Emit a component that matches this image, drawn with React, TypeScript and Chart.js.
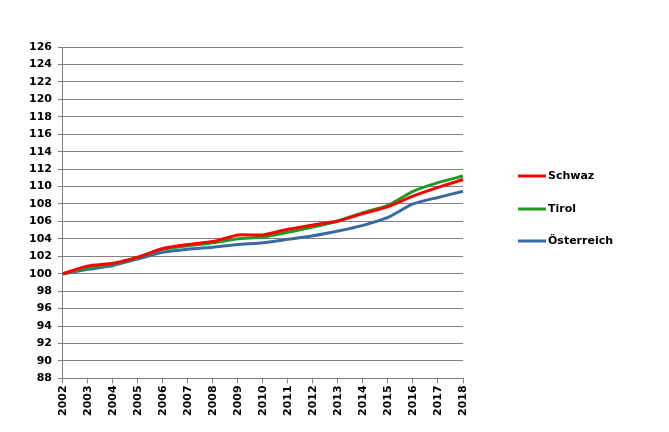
import React, { useEffect, useRef } from "react";
import { Chart, registerables } from "chart.js";

Chart.register(...registerables);

const years = ["2002", "2003", "2004", "2005", "2006", "2007", "2008", "2009", "2010", "2011", "2012", "2013", "2014", "2015", "2016", "2017", "2018"];
const schwaz = [100, 100.9, 101.2, 101.9, 102.9, 103.35, 103.7, 104.45, 104.45, 105.1, 105.6, 106.05, 106.9, 107.7, 108.9, 109.9, 110.8];
const tirol = [100, 100.7, 101.1, 101.9, 102.8, 103.2, 103.55, 104.0, 104.2, 104.75, 105.35, 106.05, 107.0, 107.85, 109.45, 110.45, 111.2];
const oesterreich = [100, 100.5, 100.95, 101.7, 102.45, 102.8, 103.05, 103.35, 103.55, 103.95, 104.35, 104.9, 105.55, 106.45, 108.0, 108.75, 109.45];
const seriesNames = ["Schwaz", "Tirol", "Österreich"];
const seriesColors = ["#ff0000", "#229922", "#3a6aa2"];

const FONT = "'DejaVu Sans', Verdana, sans-serif";

const customLegend = {
  id: "customLegend",
  afterDraw(chart: any) {
    const ctx = chart.ctx as CanvasRenderingContext2D;
    const ds = chart.data.datasets;
    const x0 = 518;
    const lineLen = 28;
    const ys = [176, 209, 241];
    ctx.save();
    ctx.font = `bold 11px ${FONT}`;
    ctx.textBaseline = "middle";
    ctx.textAlign = "left";
    ds.forEach((d: any, i: number) => {
      const y = ys[i];
      ctx.strokeStyle = d.borderColor;
      ctx.lineWidth = 3;
      ctx.beginPath();
      ctx.moveTo(x0, y);
      ctx.lineTo(x0 + lineLen, y);
      ctx.stroke();
      ctx.fillStyle = "#000";
      ctx.fillText(d.label, x0 + lineLen + 2, y);
    });
    ctx.restore();
  },
};

export default function App() {
  const ref = useRef<HTMLCanvasElement>(null);
  useEffect(() => {
    document.body.style.margin = "0";
    const canvas = ref.current!;
    const values = [schwaz, tirol, oesterreich];
    const chart = new Chart(canvas, {
      type: "line",
      data: {
        labels: years,
        datasets: values.map((v, i) => ({
          label: seriesNames[i],
          data: v,
          borderColor: seriesColors[i],
          backgroundColor: seriesColors[i],
          borderWidth: 3,
          pointRadius: 0,
          tension: 0.2,
          fill: false,
        })),
      },
      options: {
        animation: false,
        responsive: false,
        maintainAspectRatio: false,
        layout: { padding: { left: 23, top: 47, right: 206, bottom: 14 } },
        plugins: {
          legend: { display: false },
          tooltip: { enabled: false },
        },
        scales: {
          x: {
            offset: false,
            grid: {
              display: true,
              drawOnChartArea: false,
              drawTicks: true,
              tickLength: 5,
              color: "#808080",
            },
            border: { color: "#808080", width: 1 },
            ticks: {
              color: "#000",
              font: { family: FONT, size: 11, weight: "bold" },
              maxRotation: 90,
              minRotation: 90,
              autoSkip: false,
              padding: 2,
            },
          },
          y: {
            min: 88,
            max: 126,
            grid: {
              color: "#808080",
              tickLength: 5,
              lineWidth: 1,
            },
            border: { color: "#808080", width: 1 },
            ticks: {
              stepSize: 2,
              color: "#000",
              font: { family: FONT, size: 11, weight: "bold" },
              padding: 6,
            },
          },
        },
      },
      plugins: [customLegend],
    });
    return () => chart.destroy();
  }, []);
  return (
    <div style={{ width: 669, height: 432, background: "#fff" }}>
      <canvas ref={ref} width={669} height={432} style={{ width: 669, height: 432, display: "block" }} />
    </div>
  );
}
